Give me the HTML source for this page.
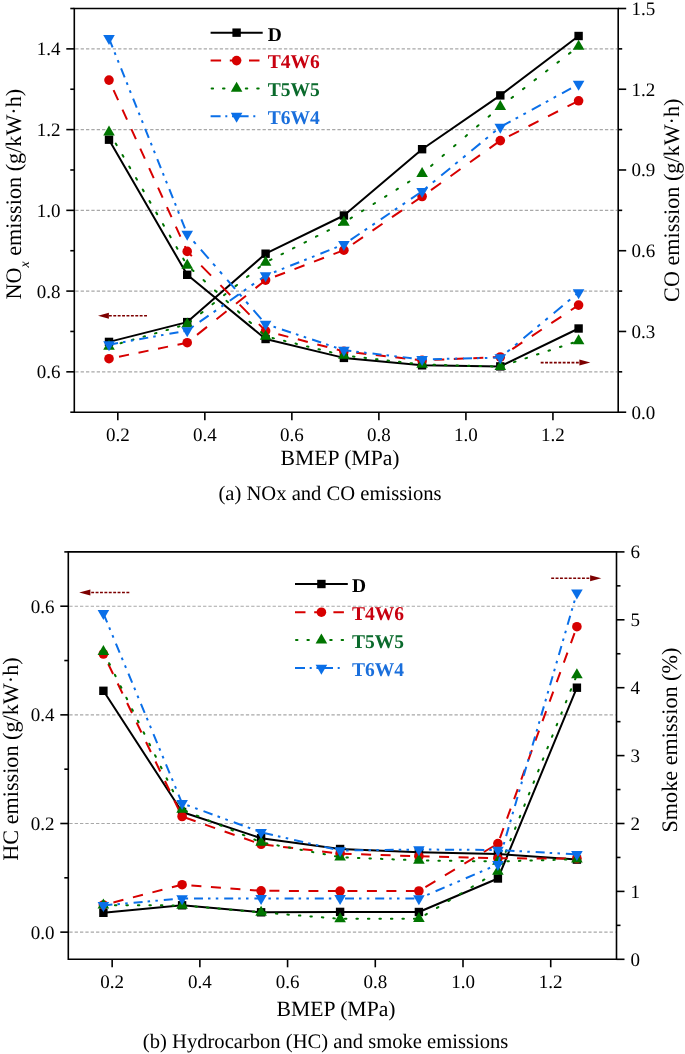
<!DOCTYPE html>
<html><head><meta charset="utf-8"><title>NOx, CO, HC and smoke emissions vs BMEP</title>
<style>
html,body{margin:0;padding:0;background:#fff;}
body{width:685px;height:1054px;overflow:hidden;}
svg{display:block;font-family:"Liberation Serif", serif;text-rendering:geometricPrecision;will-change:transform;}
</style></head>
<body>
<svg width="685" height="1054" viewBox="0 0 685 1054">
<rect width="685" height="1054" fill="#fff"/>
<line x1="75.30" y1="371.83" x2="617.20" y2="371.83" stroke="#a8a8a8" stroke-width="1.1" stroke-dasharray="3.3 2.05"/>
<line x1="75.30" y1="291.09" x2="617.20" y2="291.09" stroke="#a8a8a8" stroke-width="1.1" stroke-dasharray="3.3 2.05"/>
<line x1="75.30" y1="210.35" x2="617.20" y2="210.35" stroke="#a8a8a8" stroke-width="1.1" stroke-dasharray="3.3 2.05"/>
<line x1="75.30" y1="129.61" x2="617.20" y2="129.61" stroke="#a8a8a8" stroke-width="1.1" stroke-dasharray="3.3 2.05"/>
<line x1="75.30" y1="48.87" x2="617.20" y2="48.87" stroke="#a8a8a8" stroke-width="1.1" stroke-dasharray="3.3 2.05"/>
<polyline points="109.00,341.90 187.20,322.10 265.60,253.70 343.90,215.50 422.10,149.20 500.30,95.40 578.60,36.00" fill="none" stroke="#000" stroke-width="2" stroke-linejoin="round"/>
<rect x="104.80" y="337.70" width="8.4" height="8.4" fill="#000"/>
<rect x="183.00" y="317.90" width="8.4" height="8.4" fill="#000"/>
<rect x="261.40" y="249.50" width="8.4" height="8.4" fill="#000"/>
<rect x="339.70" y="211.30" width="8.4" height="8.4" fill="#000"/>
<rect x="417.90" y="145.00" width="8.4" height="8.4" fill="#000"/>
<rect x="496.10" y="91.20" width="8.4" height="8.4" fill="#000"/>
<rect x="574.40" y="31.80" width="8.4" height="8.4" fill="#000"/>
<polyline points="109.00,139.70 187.20,274.80 265.60,339.00 343.90,357.90 422.10,365.30 500.30,366.40 578.60,328.50" fill="none" stroke="#000" stroke-width="2" stroke-linejoin="round"/>
<rect x="104.80" y="135.50" width="8.4" height="8.4" fill="#000"/>
<rect x="183.00" y="270.60" width="8.4" height="8.4" fill="#000"/>
<rect x="261.40" y="334.80" width="8.4" height="8.4" fill="#000"/>
<rect x="339.70" y="353.70" width="8.4" height="8.4" fill="#000"/>
<rect x="417.90" y="361.10" width="8.4" height="8.4" fill="#000"/>
<rect x="496.10" y="362.20" width="8.4" height="8.4" fill="#000"/>
<rect x="574.40" y="324.30" width="8.4" height="8.4" fill="#000"/>
<line x1="109.00" y1="358.70" x2="187.20" y2="342.70" stroke="#d70000" stroke-width="2" stroke-linecap="butt" stroke-dasharray="10.21 9.70" stroke-dashoffset="9.70"/>
<line x1="187.20" y1="342.70" x2="265.60" y2="280.10" stroke="#d70000" stroke-width="2" stroke-linecap="butt" stroke-dasharray="12.80 12.16" stroke-dashoffset="12.41"/>
<line x1="265.60" y1="280.10" x2="343.90" y2="250.20" stroke="#d70000" stroke-width="2" stroke-linecap="butt" stroke-dasharray="10.70 10.17" stroke-dashoffset="10.81"/>
<line x1="343.90" y1="250.20" x2="422.10" y2="196.50" stroke="#d70000" stroke-width="2" stroke-linecap="butt" stroke-dasharray="12.13 11.52" stroke-dashoffset="12.62"/>
<line x1="422.10" y1="196.50" x2="500.30" y2="140.60" stroke="#d70000" stroke-width="2" stroke-linecap="butt" stroke-dasharray="12.29 11.68" stroke-dashoffset="13.03"/>
<line x1="500.30" y1="140.60" x2="578.60" y2="100.80" stroke="#d70000" stroke-width="2" stroke-linecap="butt" stroke-dasharray="11.22 10.66" stroke-dashoffset="12.12"/>
<circle cx="109.00" cy="358.70" r="4.8" fill="#d70000"/>
<circle cx="187.20" cy="342.70" r="4.8" fill="#d70000"/>
<circle cx="265.60" cy="280.10" r="4.8" fill="#d70000"/>
<circle cx="343.90" cy="250.20" r="4.8" fill="#d70000"/>
<circle cx="422.10" cy="196.50" r="4.8" fill="#d70000"/>
<circle cx="500.30" cy="140.60" r="4.8" fill="#d70000"/>
<circle cx="578.60" cy="100.80" r="4.8" fill="#d70000"/>
<line x1="109.00" y1="80.10" x2="187.20" y2="251.40" stroke="#d70000" stroke-width="2" stroke-linecap="butt" stroke-dasharray="10.99 10.44" stroke-dashoffset="10.44"/>
<line x1="187.20" y1="251.40" x2="265.60" y2="330.90" stroke="#d70000" stroke-width="2" stroke-linecap="butt" stroke-dasharray="14.04 13.34" stroke-dashoffset="7.44"/>
<line x1="265.60" y1="330.90" x2="343.90" y2="351.40" stroke="#d70000" stroke-width="2" stroke-linecap="butt" stroke-dasharray="10.34 9.82" stroke-dashoffset="7.03"/>
<line x1="343.90" y1="351.40" x2="422.10" y2="360.40" stroke="#d70000" stroke-width="2" stroke-linecap="butt" stroke-dasharray="10.07 9.56" stroke-dashoffset="7.15"/>
<line x1="422.10" y1="360.40" x2="500.30" y2="357.00" stroke="#d70000" stroke-width="2" stroke-linecap="butt" stroke-dasharray="10.01 9.51" stroke-dashoffset="7.31"/>
<line x1="500.30" y1="357.00" x2="578.60" y2="305.10" stroke="#d70000" stroke-width="2" stroke-linecap="butt" stroke-dasharray="12.00 11.40" stroke-dashoffset="9.00"/>
<circle cx="109.00" cy="80.10" r="4.8" fill="#d70000"/>
<circle cx="187.20" cy="251.40" r="4.8" fill="#d70000"/>
<circle cx="265.60" cy="330.90" r="4.8" fill="#d70000"/>
<circle cx="343.90" cy="351.40" r="4.8" fill="#d70000"/>
<circle cx="422.10" cy="360.40" r="4.8" fill="#d70000"/>
<circle cx="500.30" cy="357.00" r="4.8" fill="#d70000"/>
<circle cx="578.60" cy="305.10" r="4.8" fill="#d70000"/>
<line x1="109.00" y1="346.50" x2="187.20" y2="324.20" stroke="#007500" stroke-width="2" stroke-linecap="round" stroke-dasharray="1.56 10.40" stroke-dashoffset="0.00"/>
<line x1="187.20" y1="324.20" x2="265.60" y2="262.40" stroke="#007500" stroke-width="2" stroke-linecap="round" stroke-dasharray="1.91 12.73" stroke-dashoffset="11.71"/>
<line x1="265.60" y1="262.40" x2="343.90" y2="222.50" stroke="#007500" stroke-width="2" stroke-linecap="round" stroke-dasharray="1.68 11.22" stroke-dashoffset="7.97"/>
<line x1="343.90" y1="222.50" x2="422.10" y2="173.60" stroke="#007500" stroke-width="2" stroke-linecap="round" stroke-dasharray="1.77 11.79" stroke-dashoffset="5.78"/>
<line x1="422.10" y1="173.60" x2="500.30" y2="106.60" stroke="#007500" stroke-width="2" stroke-linecap="round" stroke-dasharray="1.98 13.17" stroke-dashoffset="3.42"/>
<line x1="500.30" y1="106.60" x2="578.60" y2="46.40" stroke="#007500" stroke-width="2" stroke-linecap="round" stroke-dasharray="1.89 12.61" stroke-dashoffset="0.38"/>
<path d="M109.00 339.83L114.80 349.83L103.20 349.83Z" fill="#007500"/>
<path d="M187.20 317.53L193.00 327.53L181.40 327.53Z" fill="#007500"/>
<path d="M265.60 255.73L271.40 265.73L259.80 265.73Z" fill="#007500"/>
<path d="M343.90 215.83L349.70 225.83L338.10 225.83Z" fill="#007500"/>
<path d="M422.10 166.93L427.90 176.93L416.30 176.93Z" fill="#007500"/>
<path d="M500.30 99.93L506.10 109.93L494.50 109.93Z" fill="#007500"/>
<path d="M578.60 39.73L584.40 49.73L572.80 49.73Z" fill="#007500"/>
<line x1="109.00" y1="132.10" x2="187.20" y2="265.30" stroke="#007500" stroke-width="2" stroke-linecap="round" stroke-dasharray="1.74 11.60" stroke-dashoffset="0.00"/>
<line x1="187.20" y1="265.30" x2="265.60" y2="336.30" stroke="#007500" stroke-width="2" stroke-linecap="round" stroke-dasharray="2.02 13.49" stroke-dashoffset="9.04"/>
<line x1="265.60" y1="336.30" x2="343.90" y2="355.40" stroke="#007500" stroke-width="2" stroke-linecap="round" stroke-dasharray="1.54 10.29" stroke-dashoffset="4.73"/>
<line x1="343.90" y1="355.40" x2="422.10" y2="364.50" stroke="#007500" stroke-width="2" stroke-linecap="round" stroke-dasharray="1.51 10.07" stroke-dashoffset="2.42"/>
<line x1="422.10" y1="364.50" x2="500.30" y2="366.60" stroke="#007500" stroke-width="2" stroke-linecap="round" stroke-dasharray="1.50 10.00" stroke-dashoffset="0.10"/>
<line x1="500.30" y1="366.60" x2="578.60" y2="340.90" stroke="#007500" stroke-width="2" stroke-linecap="round" stroke-dasharray="1.58 10.52" stroke-dashoffset="9.79"/>
<path d="M109.00 125.43L114.80 135.43L103.20 135.43Z" fill="#007500"/>
<path d="M187.20 258.63L193.00 268.63L181.40 268.63Z" fill="#007500"/>
<path d="M265.60 329.63L271.40 339.63L259.80 339.63Z" fill="#007500"/>
<path d="M343.90 348.73L349.70 358.73L338.10 358.73Z" fill="#007500"/>
<path d="M422.10 357.83L427.90 367.83L416.30 367.83Z" fill="#007500"/>
<path d="M500.30 359.93L506.10 369.93L494.50 369.93Z" fill="#007500"/>
<path d="M578.60 334.23L584.40 344.23L572.80 344.23Z" fill="#007500"/>
<line x1="109.00" y1="344.70" x2="187.20" y2="330.60" stroke="#0a6fe8" stroke-width="2" stroke-linecap="butt" stroke-dasharray="9.15 5.08 2.54 5.39 2.54 6.00" stroke-dashoffset="0.00"/>
<line x1="187.20" y1="330.60" x2="265.60" y2="275.60" stroke="#0a6fe8" stroke-width="2" stroke-linecap="butt" stroke-dasharray="10.99 6.11 3.05 6.47 3.05 7.21" stroke-dashoffset="21.74"/>
<line x1="265.60" y1="275.60" x2="343.90" y2="244.40" stroke="#0a6fe8" stroke-width="2" stroke-linecap="butt" stroke-dasharray="9.69 5.38 2.69 5.71 2.69 6.35" stroke-dashoffset="6.03"/>
<line x1="343.90" y1="244.40" x2="422.10" y2="191.30" stroke="#0a6fe8" stroke-width="2" stroke-linecap="butt" stroke-dasharray="10.88 6.04 3.02 6.41 3.02 7.13" stroke-dashoffset="28.41"/>
<line x1="422.10" y1="191.30" x2="500.30" y2="127.00" stroke="#0a6fe8" stroke-width="2" stroke-linecap="butt" stroke-dasharray="11.65 6.47 3.24 6.86 3.24 7.64" stroke-dashoffset="14.37"/>
<line x1="500.30" y1="127.00" x2="578.60" y2="84.20" stroke="#0a6fe8" stroke-width="2" stroke-linecap="butt" stroke-dasharray="10.26 5.70 2.85 6.04 2.85 6.72" stroke-dashoffset="32.94"/>
<path d="M103.20 341.37L114.80 341.37L109.00 351.37Z" fill="#0a6fe8"/>
<path d="M181.40 327.27L193.00 327.27L187.20 337.27Z" fill="#0a6fe8"/>
<path d="M259.80 272.27L271.40 272.27L265.60 282.27Z" fill="#0a6fe8"/>
<path d="M338.10 241.07L349.70 241.07L343.90 251.07Z" fill="#0a6fe8"/>
<path d="M416.30 187.97L427.90 187.97L422.10 197.97Z" fill="#0a6fe8"/>
<path d="M494.50 123.67L506.10 123.67L500.30 133.67Z" fill="#0a6fe8"/>
<path d="M572.80 80.87L584.40 80.87L578.60 90.87Z" fill="#0a6fe8"/>
<line x1="109.00" y1="38.30" x2="187.20" y2="234.00" stroke="#0a6fe8" stroke-width="2" stroke-linecap="butt" stroke-dasharray="9.69 5.38 2.69 5.71 2.69 6.35" stroke-dashoffset="0.00"/>
<line x1="187.20" y1="234.00" x2="265.60" y2="324.00" stroke="#0a6fe8" stroke-width="2" stroke-linecap="butt" stroke-dasharray="11.94 6.63 3.32 7.03 3.32 7.82" stroke-dashoffset="19.23"/>
<line x1="265.60" y1="324.00" x2="343.90" y2="350.20" stroke="#0a6fe8" stroke-width="2" stroke-linecap="butt" stroke-dasharray="9.49 5.27 2.64 5.59 2.64 6.22" stroke-dashoffset="14.66"/>
<line x1="343.90" y1="350.20" x2="422.10" y2="359.40" stroke="#0a6fe8" stroke-width="2" stroke-linecap="butt" stroke-dasharray="9.06 5.03 2.52 5.34 2.52 5.94" stroke-dashoffset="1.61"/>
<line x1="422.10" y1="359.40" x2="500.30" y2="357.60" stroke="#0a6fe8" stroke-width="2" stroke-linecap="butt" stroke-dasharray="9.00 5.00 2.50 5.30 2.50 5.90" stroke-dashoffset="19.41"/>
<line x1="500.30" y1="357.60" x2="578.60" y2="292.50" stroke="#0a6fe8" stroke-width="2" stroke-linecap="butt" stroke-dasharray="11.70 6.50 3.25 6.89 3.25 7.67" stroke-dashoffset="9.10"/>
<path d="M103.20 34.97L114.80 34.97L109.00 44.97Z" fill="#0a6fe8"/>
<path d="M181.40 230.67L193.00 230.67L187.20 240.67Z" fill="#0a6fe8"/>
<path d="M259.80 320.67L271.40 320.67L265.60 330.67Z" fill="#0a6fe8"/>
<path d="M338.10 346.87L349.70 346.87L343.90 356.87Z" fill="#0a6fe8"/>
<path d="M416.30 356.07L427.90 356.07L422.10 366.07Z" fill="#0a6fe8"/>
<path d="M494.50 354.27L506.10 354.27L500.30 364.27Z" fill="#0a6fe8"/>
<path d="M572.80 289.17L584.40 289.17L578.60 299.17Z" fill="#0a6fe8"/>
<path d="M74.3 8.5H618.2V412.2H74.3Z" fill="none" stroke="#000" stroke-width="1.6"/>
<line x1="70.30" y1="412.20" x2="74.30" y2="412.20" stroke="#000" stroke-width="1.6" />
<line x1="66.30" y1="371.83" x2="74.30" y2="371.83" stroke="#000" stroke-width="1.6" />
<text x="60.50" y="378.33" font-size="19" text-anchor="end" font-weight="normal" fill="#000" >0.6</text>
<line x1="70.30" y1="331.46" x2="74.30" y2="331.46" stroke="#000" stroke-width="1.6" />
<line x1="66.30" y1="291.09" x2="74.30" y2="291.09" stroke="#000" stroke-width="1.6" />
<text x="60.50" y="297.59" font-size="19" text-anchor="end" font-weight="normal" fill="#000" >0.8</text>
<line x1="70.30" y1="250.72" x2="74.30" y2="250.72" stroke="#000" stroke-width="1.6" />
<line x1="66.30" y1="210.35" x2="74.30" y2="210.35" stroke="#000" stroke-width="1.6" />
<text x="60.50" y="216.85" font-size="19" text-anchor="end" font-weight="normal" fill="#000" >1.0</text>
<line x1="70.30" y1="169.98" x2="74.30" y2="169.98" stroke="#000" stroke-width="1.6" />
<line x1="66.30" y1="129.61" x2="74.30" y2="129.61" stroke="#000" stroke-width="1.6" />
<text x="60.50" y="136.11" font-size="19" text-anchor="end" font-weight="normal" fill="#000" >1.2</text>
<line x1="70.30" y1="89.24" x2="74.30" y2="89.24" stroke="#000" stroke-width="1.6" />
<line x1="66.30" y1="48.87" x2="74.30" y2="48.87" stroke="#000" stroke-width="1.6" />
<text x="60.50" y="55.37" font-size="19" text-anchor="end" font-weight="normal" fill="#000" >1.4</text>
<line x1="70.30" y1="8.50" x2="74.30" y2="8.50" stroke="#000" stroke-width="1.6" />
<line x1="618.20" y1="412.20" x2="626.20" y2="412.20" stroke="#000" stroke-width="1.6" />
<text x="631.60" y="418.60" font-size="19" text-anchor="start" font-weight="normal" fill="#000" >0.0</text>
<line x1="618.20" y1="371.83" x2="622.20" y2="371.83" stroke="#000" stroke-width="1.6" />
<line x1="618.20" y1="331.46" x2="626.20" y2="331.46" stroke="#000" stroke-width="1.6" />
<text x="631.60" y="337.86" font-size="19" text-anchor="start" font-weight="normal" fill="#000" >0.3</text>
<line x1="618.20" y1="291.09" x2="622.20" y2="291.09" stroke="#000" stroke-width="1.6" />
<line x1="618.20" y1="250.72" x2="626.20" y2="250.72" stroke="#000" stroke-width="1.6" />
<text x="631.60" y="257.12" font-size="19" text-anchor="start" font-weight="normal" fill="#000" >0.6</text>
<line x1="618.20" y1="210.35" x2="622.20" y2="210.35" stroke="#000" stroke-width="1.6" />
<line x1="618.20" y1="169.98" x2="626.20" y2="169.98" stroke="#000" stroke-width="1.6" />
<text x="631.60" y="176.38" font-size="19" text-anchor="start" font-weight="normal" fill="#000" >0.9</text>
<line x1="618.20" y1="129.61" x2="622.20" y2="129.61" stroke="#000" stroke-width="1.6" />
<line x1="618.20" y1="89.24" x2="626.20" y2="89.24" stroke="#000" stroke-width="1.6" />
<text x="631.60" y="95.64" font-size="19" text-anchor="start" font-weight="normal" fill="#000" >1.2</text>
<line x1="618.20" y1="48.87" x2="622.20" y2="48.87" stroke="#000" stroke-width="1.6" />
<line x1="618.20" y1="8.50" x2="626.20" y2="8.50" stroke="#000" stroke-width="1.6" />
<text x="631.60" y="14.90" font-size="19" text-anchor="start" font-weight="normal" fill="#000" >1.5</text>
<line x1="117.81" y1="412.20" x2="117.81" y2="420.20" stroke="#000" stroke-width="1.6" />
<text x="117.81" y="441.20" font-size="19" text-anchor="middle" font-weight="normal" fill="#000" >0.2</text>
<line x1="204.84" y1="412.20" x2="204.84" y2="420.20" stroke="#000" stroke-width="1.6" />
<text x="204.84" y="441.20" font-size="19" text-anchor="middle" font-weight="normal" fill="#000" >0.4</text>
<line x1="291.86" y1="412.20" x2="291.86" y2="420.20" stroke="#000" stroke-width="1.6" />
<text x="291.86" y="441.20" font-size="19" text-anchor="middle" font-weight="normal" fill="#000" >0.6</text>
<line x1="378.88" y1="412.20" x2="378.88" y2="420.20" stroke="#000" stroke-width="1.6" />
<text x="378.88" y="441.20" font-size="19" text-anchor="middle" font-weight="normal" fill="#000" >0.8</text>
<line x1="465.91" y1="412.20" x2="465.91" y2="420.20" stroke="#000" stroke-width="1.6" />
<text x="465.91" y="441.20" font-size="19" text-anchor="middle" font-weight="normal" fill="#000" >1.0</text>
<line x1="552.93" y1="412.20" x2="552.93" y2="420.20" stroke="#000" stroke-width="1.6" />
<text x="552.93" y="441.20" font-size="19" text-anchor="middle" font-weight="normal" fill="#000" >1.2</text>
<text x="340.00" y="465.20" font-size="21.7" text-anchor="middle" font-weight="normal" fill="#000" >BMEP (MPa)</text>
<text x="0.00" y="0.00" font-size="22.2" text-anchor="start" font-weight="normal" fill="#000" transform="translate(21.00,299.60) rotate(-90)" >NO<tspan font-size="14" font-style="italic" dy="8">x</tspan><tspan dy="-8"> emission (g/kW·h)</tspan></text>
<text x="0.00" y="0.00" font-size="22.2" text-anchor="middle" font-weight="normal" fill="#000" transform="translate(678.50,200.20) rotate(-90)" >CO emission (g/kW·h)</text>
<text x="330.00" y="500.40" font-size="20.6" text-anchor="middle" font-weight="normal" fill="#000" >(a) NOx and CO emissions</text>
<line x1="210.6" y1="32.65" x2="262.7" y2="32.65" stroke="#000" stroke-width="2" stroke-linecap="butt"/>
<rect x="232.40" y="28.45" width="8.4" height="8.4" fill="#000"/>
<text x="267.70" y="40.50" font-size="19.5" text-anchor="start" font-weight="bold" fill="#000" >D</text>
<line x1="210.6" y1="60.60" x2="262.7" y2="60.60" stroke="#d70000" stroke-width="2" stroke-linecap="butt" stroke-dasharray="10.5 8.7"/>
<circle cx="236.60" cy="60.60" r="4.8" fill="#d70000"/>
<text x="267.70" y="68.45" font-size="19.5" text-anchor="start" font-weight="bold" fill="#c8000f" >T4W6</text>
<line x1="210.6" y1="88.40" x2="262.7" y2="88.40" stroke="#007500" stroke-width="2" stroke-linecap="round" stroke-dasharray="1.5 9.9" stroke-dashoffset="-1"/>
<path d="M236.60 81.73L242.40 91.73L230.80 91.73Z" fill="#007500"/>
<text x="267.70" y="96.25" font-size="19.5" text-anchor="start" font-weight="bold" fill="#0a6a2c" >T5W5</text>
<line x1="210.6" y1="116.20" x2="257.1" y2="116.20" stroke="#0a6fe8" stroke-width="2" stroke-linecap="butt" stroke-dasharray="10 4.7 2 4.7 2 4.6"/>
<path d="M230.80 112.87L242.40 112.87L236.60 122.87Z" fill="#0a6fe8"/>
<text x="267.70" y="124.05" font-size="19.5" text-anchor="start" font-weight="bold" fill="#1a6fdc" >T6W4</text>
<line x1="147.00" y1="315.80" x2="108.90" y2="315.80" stroke="#7d0000" stroke-width="1.6" stroke-dasharray="2.9 1.5"/>
<path d="M98.00 315.80L108.90 312.80L108.90 318.80Z" fill="#7d0000"/>
<line x1="540.70" y1="362.60" x2="579.40" y2="362.60" stroke="#7d0000" stroke-width="1.6" stroke-dasharray="2.9 1.5"/>
<path d="M590.30 362.60L579.40 359.60L579.40 365.60Z" fill="#7d0000"/>
<line x1="69.30" y1="932.14" x2="615.50" y2="932.14" stroke="#a8a8a8" stroke-width="1.1" stroke-dasharray="3.3 2.05"/>
<line x1="69.30" y1="823.50" x2="615.50" y2="823.50" stroke="#a8a8a8" stroke-width="1.1" stroke-dasharray="3.3 2.05"/>
<line x1="69.30" y1="714.86" x2="615.50" y2="714.86" stroke="#a8a8a8" stroke-width="1.1" stroke-dasharray="3.3 2.05"/>
<line x1="69.30" y1="606.22" x2="615.50" y2="606.22" stroke="#a8a8a8" stroke-width="1.1" stroke-dasharray="3.3 2.05"/>
<polyline points="103.40,690.80 182.10,812.00 261.10,838.20 340.10,849.00 418.90,852.20 497.90,854.00 576.90,859.60" fill="none" stroke="#000" stroke-width="2" stroke-linejoin="round"/>
<rect x="99.20" y="686.60" width="8.4" height="8.4" fill="#000"/>
<rect x="177.90" y="807.80" width="8.4" height="8.4" fill="#000"/>
<rect x="256.90" y="834.00" width="8.4" height="8.4" fill="#000"/>
<rect x="335.90" y="844.80" width="8.4" height="8.4" fill="#000"/>
<rect x="414.70" y="848.00" width="8.4" height="8.4" fill="#000"/>
<rect x="493.70" y="849.80" width="8.4" height="8.4" fill="#000"/>
<rect x="572.70" y="855.40" width="8.4" height="8.4" fill="#000"/>
<polyline points="103.40,912.80 182.10,905.30 261.10,912.30 340.10,911.90 418.90,912.00 497.90,878.50 576.90,687.70" fill="none" stroke="#000" stroke-width="2" stroke-linejoin="round"/>
<rect x="99.20" y="908.60" width="8.4" height="8.4" fill="#000"/>
<rect x="177.90" y="901.10" width="8.4" height="8.4" fill="#000"/>
<rect x="256.90" y="908.10" width="8.4" height="8.4" fill="#000"/>
<rect x="335.90" y="907.70" width="8.4" height="8.4" fill="#000"/>
<rect x="414.70" y="907.80" width="8.4" height="8.4" fill="#000"/>
<rect x="493.70" y="874.30" width="8.4" height="8.4" fill="#000"/>
<rect x="572.70" y="683.50" width="8.4" height="8.4" fill="#000"/>
<line x1="103.40" y1="654.00" x2="182.10" y2="816.50" stroke="#d70000" stroke-width="2" stroke-linecap="butt" stroke-dasharray="11.11 10.56" stroke-dashoffset="10.56"/>
<line x1="182.10" y1="816.50" x2="261.10" y2="844.30" stroke="#d70000" stroke-width="2" stroke-linecap="butt" stroke-dasharray="10.60 10.07" stroke-dashoffset="16.96"/>
<line x1="261.10" y1="844.30" x2="340.10" y2="853.60" stroke="#d70000" stroke-width="2" stroke-linecap="butt" stroke-dasharray="10.07 9.57" stroke-dashoffset="17.12"/>
<line x1="340.10" y1="853.60" x2="418.90" y2="856.30" stroke="#d70000" stroke-width="2" stroke-linecap="butt" stroke-dasharray="10.01 9.51" stroke-dashoffset="18.01"/>
<line x1="418.90" y1="856.30" x2="497.90" y2="858.30" stroke="#d70000" stroke-width="2" stroke-linecap="butt" stroke-dasharray="10.00 9.50" stroke-dashoffset="18.81"/>
<line x1="497.90" y1="858.30" x2="576.90" y2="858.60" stroke="#d70000" stroke-width="2" stroke-linecap="butt" stroke-dasharray="10.00 9.50" stroke-dashoffset="0.30"/>
<circle cx="103.40" cy="654.00" r="4.8" fill="#d70000"/>
<circle cx="182.10" cy="816.50" r="4.8" fill="#d70000"/>
<circle cx="261.10" cy="844.30" r="4.8" fill="#d70000"/>
<circle cx="340.10" cy="853.60" r="4.8" fill="#d70000"/>
<circle cx="418.90" cy="856.30" r="4.8" fill="#d70000"/>
<circle cx="497.90" cy="858.30" r="4.8" fill="#d70000"/>
<circle cx="576.90" cy="858.60" r="4.8" fill="#d70000"/>
<line x1="103.40" y1="905.00" x2="182.10" y2="884.70" stroke="#d70000" stroke-width="2" stroke-linecap="butt" stroke-dasharray="10.33 9.81" stroke-dashoffset="9.81"/>
<line x1="182.10" y1="884.70" x2="261.10" y2="890.80" stroke="#d70000" stroke-width="2" stroke-linecap="butt" stroke-dasharray="10.03 9.53" stroke-dashoffset="10.23"/>
<line x1="261.10" y1="890.80" x2="340.10" y2="891.10" stroke="#d70000" stroke-width="2" stroke-linecap="butt" stroke-dasharray="10.00 9.50" stroke-dashoffset="11.20"/>
<line x1="340.10" y1="891.10" x2="418.90" y2="891.00" stroke="#d70000" stroke-width="2" stroke-linecap="butt" stroke-dasharray="10.00 9.50" stroke-dashoffset="12.20"/>
<line x1="418.90" y1="891.00" x2="497.90" y2="843.60" stroke="#d70000" stroke-width="2" stroke-linecap="butt" stroke-dasharray="11.66 11.08" stroke-dashoffset="15.16"/>
<line x1="497.90" y1="843.60" x2="576.90" y2="626.70" stroke="#d70000" stroke-width="2" stroke-linecap="butt" stroke-dasharray="10.64 10.11" stroke-dashoffset="14.90"/>
<circle cx="103.40" cy="905.00" r="4.8" fill="#d70000"/>
<circle cx="182.10" cy="884.70" r="4.8" fill="#d70000"/>
<circle cx="261.10" cy="890.80" r="4.8" fill="#d70000"/>
<circle cx="340.10" cy="891.10" r="4.8" fill="#d70000"/>
<circle cx="418.90" cy="891.00" r="4.8" fill="#d70000"/>
<circle cx="497.90" cy="843.60" r="4.8" fill="#d70000"/>
<circle cx="576.90" cy="626.70" r="4.8" fill="#d70000"/>
<line x1="103.40" y1="651.70" x2="182.10" y2="809.40" stroke="#007500" stroke-width="2" stroke-linecap="round" stroke-dasharray="1.68 11.18" stroke-dashoffset="0.00"/>
<line x1="182.10" y1="809.40" x2="261.10" y2="842.30" stroke="#007500" stroke-width="2" stroke-linecap="round" stroke-dasharray="1.62 10.83" stroke-dashoffset="8.88"/>
<line x1="261.10" y1="842.30" x2="340.10" y2="857.20" stroke="#007500" stroke-width="2" stroke-linecap="round" stroke-dasharray="1.53 10.18" stroke-dashoffset="6.82"/>
<line x1="340.10" y1="857.20" x2="418.90" y2="860.40" stroke="#007500" stroke-width="2" stroke-linecap="round" stroke-dasharray="1.50 10.01" stroke-dashoffset="5.20"/>
<line x1="418.90" y1="860.40" x2="497.90" y2="861.50" stroke="#007500" stroke-width="2" stroke-linecap="round" stroke-dasharray="1.50 10.00" stroke-dashoffset="3.50"/>
<line x1="497.90" y1="861.50" x2="576.90" y2="859.20" stroke="#007500" stroke-width="2" stroke-linecap="round" stroke-dasharray="1.50 10.00" stroke-dashoffset="2.00"/>
<path d="M103.40 645.03L109.20 655.03L97.60 655.03Z" fill="#007500"/>
<path d="M182.10 802.73L187.90 812.73L176.30 812.73Z" fill="#007500"/>
<path d="M261.10 835.63L266.90 845.63L255.30 845.63Z" fill="#007500"/>
<path d="M340.10 850.53L345.90 860.53L334.30 860.53Z" fill="#007500"/>
<path d="M418.90 853.73L424.70 863.73L413.10 863.73Z" fill="#007500"/>
<path d="M497.90 854.83L503.70 864.83L492.10 864.83Z" fill="#007500"/>
<path d="M576.90 852.53L582.70 862.53L571.10 862.53Z" fill="#007500"/>
<line x1="103.40" y1="905.20" x2="182.10" y2="905.40" stroke="#007500" stroke-width="2" stroke-linecap="round" stroke-dasharray="1.50 10.00" stroke-dashoffset="0.00"/>
<line x1="182.10" y1="905.40" x2="261.10" y2="912.40" stroke="#007500" stroke-width="2" stroke-linecap="round" stroke-dasharray="1.51 10.04" stroke-dashoffset="9.74"/>
<line x1="261.10" y1="912.40" x2="340.10" y2="918.80" stroke="#007500" stroke-width="2" stroke-linecap="round" stroke-dasharray="1.50 10.03" stroke-dashoffset="8.23"/>
<line x1="340.10" y1="918.80" x2="418.90" y2="918.70" stroke="#007500" stroke-width="2" stroke-linecap="round" stroke-dasharray="1.50 10.00" stroke-dashoffset="6.70"/>
<line x1="418.90" y1="918.70" x2="497.90" y2="871.40" stroke="#007500" stroke-width="2" stroke-linecap="round" stroke-dasharray="1.75 11.66" stroke-dashoffset="5.83"/>
<line x1="497.90" y1="871.40" x2="576.90" y2="674.80" stroke="#007500" stroke-width="2" stroke-linecap="round" stroke-dasharray="1.62 10.78" stroke-dashoffset="3.77"/>
<path d="M103.40 898.53L109.20 908.53L97.60 908.53Z" fill="#007500"/>
<path d="M182.10 898.73L187.90 908.73L176.30 908.73Z" fill="#007500"/>
<path d="M261.10 905.73L266.90 915.73L255.30 915.73Z" fill="#007500"/>
<path d="M340.10 912.13L345.90 922.13L334.30 922.13Z" fill="#007500"/>
<path d="M418.90 912.03L424.70 922.03L413.10 922.03Z" fill="#007500"/>
<path d="M497.90 864.73L503.70 874.73L492.10 874.73Z" fill="#007500"/>
<path d="M576.90 668.13L582.70 678.13L571.10 678.13Z" fill="#007500"/>
<line x1="103.40" y1="613.30" x2="182.10" y2="803.30" stroke="#0a6fe8" stroke-width="2" stroke-linecap="butt" stroke-dasharray="9.74 5.41 2.71 5.74 2.71 6.39" stroke-dashoffset="0.00"/>
<line x1="182.10" y1="803.30" x2="261.10" y2="832.30" stroke="#0a6fe8" stroke-width="2" stroke-linecap="butt" stroke-dasharray="9.59 5.33 2.66 5.65 2.66 6.28" stroke-dashoffset="9.37"/>
<line x1="261.10" y1="832.30" x2="340.10" y2="850.50" stroke="#0a6fe8" stroke-width="2" stroke-linecap="butt" stroke-dasharray="9.24 5.13 2.57 5.44 2.57 6.05" stroke-dashoffset="28.12"/>
<line x1="340.10" y1="850.50" x2="418.90" y2="849.50" stroke="#0a6fe8" stroke-width="2" stroke-linecap="butt" stroke-dasharray="9.00 5.00 2.50 5.30 2.50 5.90" stroke-dashoffset="15.80"/>
<line x1="418.90" y1="849.50" x2="497.90" y2="850.00" stroke="#0a6fe8" stroke-width="2" stroke-linecap="butt" stroke-dasharray="9.00 5.00 2.50 5.30 2.50 5.90" stroke-dashoffset="4.00"/>
<line x1="497.90" y1="850.00" x2="576.90" y2="854.40" stroke="#0a6fe8" stroke-width="2" stroke-linecap="butt" stroke-dasharray="9.01 5.01 2.50 5.31 2.50 5.91" stroke-dashoffset="22.64"/>
<path d="M97.60 609.97L109.20 609.97L103.40 619.97Z" fill="#0a6fe8"/>
<path d="M176.30 799.97L187.90 799.97L182.10 809.97Z" fill="#0a6fe8"/>
<path d="M255.30 828.97L266.90 828.97L261.10 838.97Z" fill="#0a6fe8"/>
<path d="M334.30 847.17L345.90 847.17L340.10 857.17Z" fill="#0a6fe8"/>
<path d="M413.10 846.17L424.70 846.17L418.90 856.17Z" fill="#0a6fe8"/>
<path d="M492.10 846.67L503.70 846.67L497.90 856.67Z" fill="#0a6fe8"/>
<path d="M571.10 851.07L582.70 851.07L576.90 861.07Z" fill="#0a6fe8"/>
<line x1="103.40" y1="905.40" x2="182.10" y2="898.50" stroke="#0a6fe8" stroke-width="2" stroke-linecap="butt" stroke-dasharray="9.03 5.02 2.51 5.32 2.51 5.92" stroke-dashoffset="0.00"/>
<line x1="182.10" y1="898.50" x2="261.10" y2="898.40" stroke="#0a6fe8" stroke-width="2" stroke-linecap="butt" stroke-dasharray="9.00 5.00 2.50 5.30 2.50 5.90" stroke-dashoffset="18.30"/>
<line x1="261.10" y1="898.40" x2="340.10" y2="898.40" stroke="#0a6fe8" stroke-width="2" stroke-linecap="butt" stroke-dasharray="9.00 5.00 2.50 5.30 2.50 5.90" stroke-dashoffset="6.70"/>
<line x1="340.10" y1="898.40" x2="418.90" y2="898.50" stroke="#0a6fe8" stroke-width="2" stroke-linecap="butt" stroke-dasharray="9.00 5.00 2.50 5.30 2.50 5.90" stroke-dashoffset="25.30"/>
<line x1="418.90" y1="898.50" x2="497.90" y2="864.40" stroke="#0a6fe8" stroke-width="2" stroke-linecap="butt" stroke-dasharray="9.80 5.45 2.72 5.77 2.72 6.43" stroke-dashoffset="14.70"/>
<line x1="497.90" y1="864.40" x2="576.90" y2="592.80" stroke="#0a6fe8" stroke-width="2" stroke-linecap="butt" stroke-dasharray="9.37 5.21 2.60 5.52 2.60 6.14" stroke-dashoffset="1.98"/>
<path d="M97.60 902.07L109.20 902.07L103.40 912.07Z" fill="#0a6fe8"/>
<path d="M176.30 895.17L187.90 895.17L182.10 905.17Z" fill="#0a6fe8"/>
<path d="M255.30 895.07L266.90 895.07L261.10 905.07Z" fill="#0a6fe8"/>
<path d="M334.30 895.07L345.90 895.07L340.10 905.07Z" fill="#0a6fe8"/>
<path d="M413.10 895.17L424.70 895.17L418.90 905.17Z" fill="#0a6fe8"/>
<path d="M492.10 861.07L503.70 861.07L497.90 871.07Z" fill="#0a6fe8"/>
<path d="M571.10 589.47L582.70 589.47L576.90 599.47Z" fill="#0a6fe8"/>
<path d="M68.3 551.9H616.5V959.3H68.3Z" fill="none" stroke="#000" stroke-width="1.6"/>
<line x1="60.30" y1="932.14" x2="68.30" y2="932.14" stroke="#000" stroke-width="1.6" />
<text x="54.50" y="938.64" font-size="19" text-anchor="end" font-weight="normal" fill="#000" >0.0</text>
<line x1="64.30" y1="877.82" x2="68.30" y2="877.82" stroke="#000" stroke-width="1.6" />
<line x1="60.30" y1="823.50" x2="68.30" y2="823.50" stroke="#000" stroke-width="1.6" />
<text x="54.50" y="830.00" font-size="19" text-anchor="end" font-weight="normal" fill="#000" >0.2</text>
<line x1="64.30" y1="769.18" x2="68.30" y2="769.18" stroke="#000" stroke-width="1.6" />
<line x1="60.30" y1="714.86" x2="68.30" y2="714.86" stroke="#000" stroke-width="1.6" />
<text x="54.50" y="721.36" font-size="19" text-anchor="end" font-weight="normal" fill="#000" >0.4</text>
<line x1="64.30" y1="660.54" x2="68.30" y2="660.54" stroke="#000" stroke-width="1.6" />
<line x1="60.30" y1="606.22" x2="68.30" y2="606.22" stroke="#000" stroke-width="1.6" />
<text x="54.50" y="612.72" font-size="19" text-anchor="end" font-weight="normal" fill="#000" >0.6</text>
<line x1="64.30" y1="551.90" x2="68.30" y2="551.90" stroke="#000" stroke-width="1.6" />
<line x1="616.50" y1="959.30" x2="624.50" y2="959.30" stroke="#000" stroke-width="1.6" />
<text x="630.50" y="965.80" font-size="19" text-anchor="start" font-weight="normal" fill="#000" >0</text>
<line x1="616.50" y1="925.35" x2="620.50" y2="925.35" stroke="#000" stroke-width="1.6" />
<line x1="616.50" y1="891.40" x2="624.50" y2="891.40" stroke="#000" stroke-width="1.6" />
<text x="630.50" y="897.90" font-size="19" text-anchor="start" font-weight="normal" fill="#000" >1</text>
<line x1="616.50" y1="857.45" x2="620.50" y2="857.45" stroke="#000" stroke-width="1.6" />
<line x1="616.50" y1="823.50" x2="624.50" y2="823.50" stroke="#000" stroke-width="1.6" />
<text x="630.50" y="830.00" font-size="19" text-anchor="start" font-weight="normal" fill="#000" >2</text>
<line x1="616.50" y1="789.55" x2="620.50" y2="789.55" stroke="#000" stroke-width="1.6" />
<line x1="616.50" y1="755.60" x2="624.50" y2="755.60" stroke="#000" stroke-width="1.6" />
<text x="630.50" y="762.10" font-size="19" text-anchor="start" font-weight="normal" fill="#000" >3</text>
<line x1="616.50" y1="721.65" x2="620.50" y2="721.65" stroke="#000" stroke-width="1.6" />
<line x1="616.50" y1="687.70" x2="624.50" y2="687.70" stroke="#000" stroke-width="1.6" />
<text x="630.50" y="694.20" font-size="19" text-anchor="start" font-weight="normal" fill="#000" >4</text>
<line x1="616.50" y1="653.75" x2="620.50" y2="653.75" stroke="#000" stroke-width="1.6" />
<line x1="616.50" y1="619.80" x2="624.50" y2="619.80" stroke="#000" stroke-width="1.6" />
<text x="630.50" y="626.30" font-size="19" text-anchor="start" font-weight="normal" fill="#000" >5</text>
<line x1="616.50" y1="585.85" x2="620.50" y2="585.85" stroke="#000" stroke-width="1.6" />
<line x1="616.50" y1="551.90" x2="624.50" y2="551.90" stroke="#000" stroke-width="1.6" />
<text x="630.50" y="558.40" font-size="19" text-anchor="start" font-weight="normal" fill="#000" >6</text>
<line x1="112.16" y1="959.30" x2="112.16" y2="967.30" stroke="#000" stroke-width="1.6" />
<text x="112.16" y="988.10" font-size="19" text-anchor="middle" font-weight="normal" fill="#000" >0.2</text>
<line x1="199.87" y1="959.30" x2="199.87" y2="967.30" stroke="#000" stroke-width="1.6" />
<text x="199.87" y="988.10" font-size="19" text-anchor="middle" font-weight="normal" fill="#000" >0.4</text>
<line x1="287.58" y1="959.30" x2="287.58" y2="967.30" stroke="#000" stroke-width="1.6" />
<text x="287.58" y="988.10" font-size="19" text-anchor="middle" font-weight="normal" fill="#000" >0.6</text>
<line x1="375.29" y1="959.30" x2="375.29" y2="967.30" stroke="#000" stroke-width="1.6" />
<text x="375.29" y="988.10" font-size="19" text-anchor="middle" font-weight="normal" fill="#000" >0.8</text>
<line x1="463.00" y1="959.30" x2="463.00" y2="967.30" stroke="#000" stroke-width="1.6" />
<text x="463.00" y="988.10" font-size="19" text-anchor="middle" font-weight="normal" fill="#000" >1.0</text>
<line x1="550.72" y1="959.30" x2="550.72" y2="967.30" stroke="#000" stroke-width="1.6" />
<text x="550.72" y="988.10" font-size="19" text-anchor="middle" font-weight="normal" fill="#000" >1.2</text>
<text x="336.00" y="1016.40" font-size="21.7" text-anchor="middle" font-weight="normal" fill="#000" >BMEP (MPa)</text>
<text x="0.00" y="0.00" font-size="22.2" text-anchor="start" font-weight="normal" fill="#000" transform="translate(18.00,860.70) rotate(-90)" >HC emission (g/kW·h)</text>
<text x="0.00" y="0.00" font-size="22.2" text-anchor="start" font-weight="normal" fill="#000" transform="translate(677.00,832.50) rotate(-90)" >Smoke emission (%)</text>
<text x="325.60" y="1047.70" font-size="20.6" text-anchor="middle" font-weight="normal" fill="#000" >(b) Hydrocarbon (HC) and smoke emissions</text>
<line x1="295.0" y1="584.00" x2="347.8" y2="584.00" stroke="#000" stroke-width="2" stroke-linecap="butt"/>
<rect x="317.20" y="579.80" width="8.4" height="8.4" fill="#000"/>
<text x="352.00" y="591.85" font-size="19.5" text-anchor="start" font-weight="bold" fill="#000" >D</text>
<line x1="295.0" y1="612.20" x2="347.8" y2="612.20" stroke="#d70000" stroke-width="2" stroke-linecap="butt" stroke-dasharray="10.5 8.7"/>
<circle cx="321.40" cy="612.20" r="4.8" fill="#d70000"/>
<text x="352.00" y="620.05" font-size="19.5" text-anchor="start" font-weight="bold" fill="#c8000f" >T4W6</text>
<line x1="295.0" y1="640.10" x2="347.8" y2="640.10" stroke="#007500" stroke-width="2" stroke-linecap="round" stroke-dasharray="1.5 9.9" stroke-dashoffset="-1"/>
<path d="M321.40 633.43L327.20 643.43L315.60 643.43Z" fill="#007500"/>
<text x="352.00" y="647.95" font-size="19.5" text-anchor="start" font-weight="bold" fill="#0a6a2c" >T5W5</text>
<line x1="295.0" y1="668.10" x2="341.5" y2="668.10" stroke="#0a6fe8" stroke-width="2" stroke-linecap="butt" stroke-dasharray="10 4.7 2 4.7 2 4.6"/>
<path d="M315.60 664.77L327.20 664.77L321.40 674.77Z" fill="#0a6fe8"/>
<text x="352.00" y="675.95" font-size="19.5" text-anchor="start" font-weight="bold" fill="#1a6fdc" >T6W4</text>
<line x1="129.30" y1="592.50" x2="90.40" y2="592.50" stroke="#7d0000" stroke-width="1.6" stroke-dasharray="2.9 1.5"/>
<path d="M79.20 592.50L90.40 589.50L90.40 595.50Z" fill="#7d0000"/>
<line x1="551.20" y1="578.30" x2="590.10" y2="578.30" stroke="#7d0000" stroke-width="1.6" stroke-dasharray="2.9 1.5"/>
<path d="M601.30 578.30L590.10 575.30L590.10 581.30Z" fill="#7d0000"/>
</svg>
</body></html>
